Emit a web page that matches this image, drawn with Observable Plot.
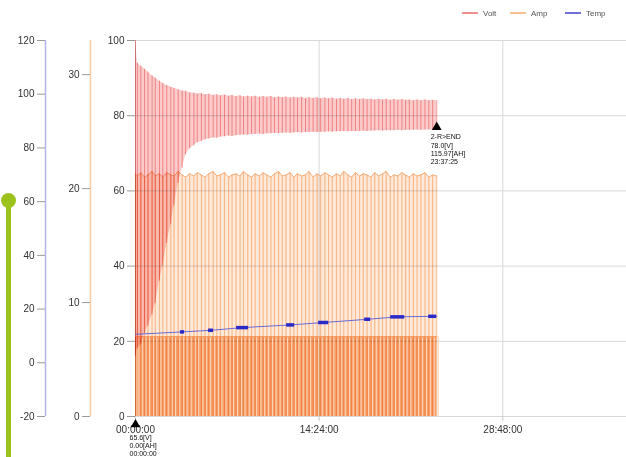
<!DOCTYPE html>
<html><head><meta charset="utf-8">
<script src="https://cdn.jsdelivr.net/npm/d3@7"></script>
<script src="https://cdn.jsdelivr.net/npm/@observablehq/plot@0.6"></script>
<style>
body{margin:0;background:#fff;font-family:Arial,"Liberation Sans",sans-serif;}
#wrap{position:relative;width:626px;height:457px;overflow:hidden;}
#chart{position:absolute;left:0;top:0;}
.leg{position:absolute;top:9px;font-size:8px;color:#555;line-height:10px;white-space:nowrap;}
.sw{display:inline-block;width:16px;height:2px;vertical-align:middle;margin-right:5px;margin-top:-1px;}
.deco-line{position:absolute;left:6px;top:200px;width:5px;height:260px;background:#9cc31c;}
.deco-dot{position:absolute;left:1px;top:193px;width:15px;height:15px;border-radius:50%;background:#9cc31c;}
</style>
</head><body>
<div id="wrap">
  <div id="chart"></div>
  <div class="deco-line"></div><div class="deco-dot"></div>
  <div class="leg" style="left:462px"><span class="sw" style="background:#ef8f8f"></span>Volt</div>
  <div class="leg" style="left:510px"><span class="sw" style="background:#f6c08f"></span>Amp</div>
  <div class="leg" style="left:565px"><span class="sw" style="background:#7070d8"></span>Temp</div>
</div>
<script>
// ---- data ----
const pulseT = [
  0.00, 0.15, 0.42, 0.71, 0.98, 1.30, 1.55, 1.88, 2.14, 2.45,
  2.77, 3.02, 3.35, 3.66, 3.93, 4.25, 4.58, 4.84, 5.17, 5.46,
  5.75, 6.09, 6.38, 6.66, 6.98, 7.30, 7.57, 7.88, 8.20, 8.47,
  8.80, 9.10, 9.38, 9.72, 10.01, 10.30, 10.62, 10.90, 11.22, 11.51,
  11.80, 12.13, 12.42, 12.70, 13.03, 13.33, 13.61, 13.93, 14.24, 14.52,
  14.85, 15.14, 15.43, 15.76, 16.05, 16.33, 16.66, 16.95, 17.25, 17.57,
  17.86, 18.16, 18.47, 18.76, 19.08, 19.37, 19.66, 19.98, 20.27, 20.57,
  20.89, 21.18, 21.47, 21.79, 22.08, 22.38, 22.70, 23.00, 23.30, 23.62
];
const voltHi = [
  100, 94.0, 93.2, 92.4, 91.6, 90.6, 90.0, 89.2, 88.6, 88.0,
  87.6, 87.3, 86.9, 86.6, 86.5, 86.1, 86.0, 85.8, 85.9, 85.6,
  85.7, 85.4, 85.6, 85.3, 85.5, 85.2, 85.4, 85.1, 85.3, 85.0,
  85.2, 85.0, 85.2, 84.9, 85.1, 84.9, 85.1, 84.8, 85.0, 84.8,
  85.0, 84.7, 84.9, 84.7, 84.9, 84.6, 84.8, 84.6, 84.8, 84.5,
  84.7, 84.5, 84.7, 84.4, 84.6, 84.4, 84.6, 84.3, 84.5, 84.3,
  84.5, 84.3, 84.4, 84.2, 84.4, 84.2, 84.4, 84.1, 84.3, 84.1,
  84.3, 84.1, 84.2, 84.0, 84.2, 84.0, 84.2, 84.0, 84.1, 84.0
];
const voltLo = [
  16, 18, 19, 22, 24, 27, 30, 36, 40, 46,
  51, 56, 62, 66, 69.5, 71.2, 72.0, 72.8, 73.1, 73.6,
  73.8, 74.1, 74.0, 74.3, 74.4, 74.6, 74.5, 74.7, 74.8, 74.9,
  74.8, 75.0, 75.0, 75.1, 75.0, 75.2, 75.2, 75.3, 75.2, 75.3,
  75.4, 75.3, 75.4, 75.5, 75.4, 75.5, 75.5, 75.6, 75.5, 75.6,
  75.6, 75.7, 75.6, 75.7, 75.7, 75.8, 75.7, 75.8, 75.8, 75.8,
  75.9, 75.8, 75.9, 75.9, 76.0, 75.9, 76.0, 76.0, 76.0, 76.1,
  76.0, 76.1, 76.1, 76.1, 76.2, 76.1, 76.2, 76.2, 76.2, 76.3
];
const ampHi = [
  21.3, 21.1, 21.4, 21.0, 21.2, 21.5, 21.1, 21.3, 21.0, 21.4,
  21.2, 21.1, 21.5, 21.2, 21.0, 21.3, 21.1, 21.4, 21.2, 21.0,
  21.3, 21.5, 21.1, 21.2, 21.4, 21.0, 21.2, 21.3, 21.1, 21.5,
  21.2, 21.0, 21.3, 21.1, 21.4, 21.2, 21.0, 21.3, 21.5, 21.1,
  21.2, 21.4, 21.0, 21.3, 21.1, 21.2, 21.5, 21.0, 21.3, 21.1,
  21.4, 21.2, 21.0, 21.3, 21.1, 21.5, 21.2, 21.0, 21.4, 21.1,
  21.3, 21.2, 21.0, 21.4, 21.1, 21.3, 21.5, 21.0, 21.2, 21.1,
  21.4, 21.2, 21.0, 21.3, 21.1, 21.2, 21.4, 21.0, 21.2, 21.1
];
const ampBase = 7.0;

const tempT = [0, 3.69, 5.93, 8.40, 12.16, 14.75, 18.20, 20.56, 23.31, 23.62];
const tempV = [10.6, 11.5, 12.1, 13.1, 14.1, 15.0, 16.2, 17.1, 17.3, 17.3];
const tempMarkStart = [3.53, 5.73, 7.93, 11.85, 14.36, 17.97, 20.01, 22.99];
const tempMarkEnd   = [3.85, 6.12, 8.87, 12.48, 15.15, 18.44, 21.11, 23.62];
const tempMarkV     = [11.5, 12.1, 13.1, 14.1, 15.0, 16.2, 17.1, 17.3];

const voltTicks = [0, 20, 40, 60, 80, 100];
const ampTicks = [0, 10, 20, 30];
const tempTicks = [-20, 0, 20, 40, 60, 80, 100, 120];
const timeTicks = [0, 14.4, 28.8];
const timeLabels = ["00:00:00", "14:24:00", "28:48:00"];

const annoT = [0, 23.62];
const annoV = [0, 78.0];
const annoText = ["65.6[V]\n0.00[AH]\n00:00:00", "2-R>END\n78.0[V]\n115.97[AH]\n23:37:25"];

// ---- scale helpers (secondary axes mapped into the volt scale) ----
const ampMax = 33, tempMin = -20, tempMax = 120;
const ampToV = a => a / ampMax * 100;
const tempToV = t => (t - tempMin) / (tempMax - tempMin) * 100;

const pulses = pulseT.map((t, i) => ({t, vHi: voltHi[i], vLo: voltLo[i], aHi: ampHi[i]}));
const temps = tempT.map((t, i) => ({t, v: tempV[i]}));
const tempMarks = tempMarkStart.map((s, i) => ({s, e: tempMarkEnd[i], v: tempMarkV[i]}));
const annos = annoT.map((t, i) => ({t, v: annoV[i], text: annoText[i]}));
const startAnno = annos.slice(0, 1), endAnno = annos.slice(1);

const chart = Plot.plot({
  width: 626, height: 457,
  marginLeft: 135, marginRight: 0, marginTop: 40, marginBottom: 41,
  style: {fontFamily: "Arial, 'Liberation Sans', sans-serif", background: "transparent", overflow: "visible"},
  x: {domain: [0, 38.5], axis: null},
  y: {domain: [0, 100], axis: null},
  marks: [
    Plot.gridY(voltTicks, {stroke: "#d8d8d8", strokeOpacity: 1}),
    Plot.gridX(timeTicks, {stroke: "#d8d8d8", strokeOpacity: 1}),
    // Amp
    Plot.areaY(pulses, {x: "t", y1: 0, y2: d => ampToV(d.aHi), fill: "#feeadb", mixBlendMode: "multiply"}),
    Plot.ruleX(pulses, {x: "t", y1: 0, y2: d => ampToV(d.aHi), stroke: "#f9cba4", strokeWidth: 1.2, mixBlendMode: "multiply"}),
    Plot.areaY(pulses, {x: "t", y1: 0, y2: () => ampToV(ampBase), fill: "#f8b07c", mixBlendMode: "multiply"}),
    Plot.ruleX(pulses, {x: "t", dx: 1.5, y1: 0, y2: () => ampToV(ampBase), stroke: "#fbd6ba", strokeWidth: 1}),
    Plot.line(pulses, {x: "t", y: d => ampToV(d.aHi), stroke: "#f5ad78", strokeWidth: 1}),
    Plot.line(pulses, {x: "t", y: () => ampToV(ampBase), stroke: "#f29a5c", strokeWidth: 1}),
    // Volt
    Plot.areaY(pulses, {x: "t", y1: "vLo", y2: "vHi", fill: "#fbcaca", mixBlendMode: "multiply"}),
    Plot.ruleX(pulses, {x: "t", y1: "vLo", y2: "vHi", stroke: "#f3a6a6", strokeWidth: 1, mixBlendMode: "multiply"}),
    // Temp
    Plot.line(temps, {x: "t", y: d => tempToV(d.v), stroke: "#6a6ad6", strokeWidth: 1}),
    Plot.ruleY(tempMarks, {x1: "s", x2: "e", y: d => tempToV(d.v), stroke: "#2a2ac8", strokeWidth: 3.5}),
    // Axis lines for secondary axes
    Plot.ruleX([0], {y1: 0, y2: 100, dx: -90, stroke: "#b4b4ec", strokeWidth: 1.5}),
    Plot.ruleX([0], {y1: 0, y2: 100, dx: -45, stroke: "#f6cba6", strokeWidth: 1.5}),
    // Axes
    Plot.axisY(voltTicks, {anchor: "left", tickSize: 8, tickPadding: 3, stroke: "#9a9a9a", fill: "#333", fontSize: 10, label: null}),
    Plot.axisY(ampTicks.map(ampToV), {anchor: "left", dx: -45, tickSize: 8, tickPadding: 3, stroke: "#9a9a9a", fill: "#333", fontSize: 10, label: null,
      tickFormat: v => String(Math.round(v / 100 * ampMax))}),
    Plot.axisY(tempTicks.map(tempToV), {anchor: "left", dx: -90, tickSize: 8, tickPadding: 3, stroke: "#9a9a9a", fill: "#333", fontSize: 10, label: null,
      tickFormat: v => String(Math.round(v / 100 * (tempMax - tempMin) + tempMin))}),
    Plot.axisX(timeTicks, {anchor: "bottom", tickSize: 5, tickPadding: 4, stroke: "#c8c8c8", fill: "#333", fontSize: 10, label: null,
      tickFormat: d => timeLabels[timeTicks.indexOf(d)]}),
    // Annotations
    Plot.dot(startAnno, {x: "t", y: "v", dy: 8, symbol: "triangle", r: 3.6, fill: "#000", stroke: "none"}),
    Plot.text(startAnno, {x: "t", y: "v", text: "text", dx: -6, dy: 18, textAnchor: "start", lineAnchor: "top", fontSize: 7, lineHeight: 1.12, fill: "#111"}),
    Plot.dot(endAnno, {x: "t", y: "v", dy: 4, symbol: "triangle", r: 3.6, fill: "#000", stroke: "none"}),
    Plot.text(endAnno, {x: "t", y: "v", text: "text", dx: -6, dy: 10, textAnchor: "start", lineAnchor: "top", fontSize: 7, lineHeight: 1.2, fill: "#111"})
  ]
});
document.getElementById("chart").appendChild(chart);
</script>
</body></html>
